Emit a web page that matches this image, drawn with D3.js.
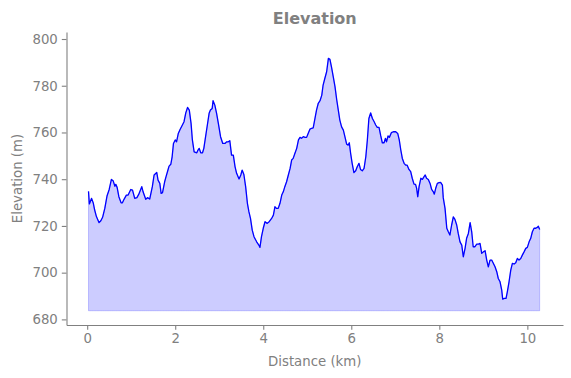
<!DOCTYPE html>
<html>
<head>
<meta charset="utf-8">
<script src="https://cdn.jsdelivr.net/npm/d3@7"></script>
<style>
  body { margin: 0; background: #fff; }
  svg { display: block; font-family: "DejaVu Sans", sans-serif; }
</style>
</head>
<body>
<svg id="chart" width="571" height="378"></svg>
<script>
const distanceKm = [0.03,0.05,0.10,0.14,0.17,0.21,0.27,0.31,0.35,0.40,0.45,0.50,0.55,0.59,0.63,0.65,0.68,0.72,0.77,0.80,0.84,0.89,0.93,0.99,1.03,1.08,1.13,1.17,1.24,1.27,1.33,1.37,1.42,1.48,1.52,1.58,1.61,1.65,1.68,1.71,1.76,1.79,1.83,1.86,1.90,1.93,1.96,2.00,2.03,2.07,2.11,2.16,2.20,2.24,2.28,2.32,2.36,2.39,2.43,2.49,2.51,2.545,2.58,2.62,2.65,2.69,2.73,2.77,2.80,2.84,2.86,2.90,2.94,2.98,3.03,3.08,3.13,3.17,3.205,3.24,3.28,3.32,3.36,3.395,3.45,3.49,3.52,3.56,3.60,3.64,3.675,3.71,3.75,3.79,3.85,3.90,3.925,3.96,4.00,4.04,4.09,4.135,4.19,4.23,4.265,4.30,4.34,4.38,4.42,4.455,4.49,4.53,4.57,4.61,4.645,4.68,4.72,4.76,4.80,4.835,4.87,4.91,4.95,4.985,5.02,5.06,5.10,5.135,5.175,5.21,5.25,5.29,5.33,5.36,5.40,5.44,5.48,5.515,5.55,5.59,5.63,5.67,5.705,5.74,5.78,5.82,5.855,5.895,5.93,5.955,5.985,6.02,6.06,6.10,6.135,6.175,6.21,6.25,6.29,6.33,6.365,6.40,6.44,6.48,6.52,6.555,6.59,6.63,6.67,6.705,6.745,6.775,6.80,6.835,6.865,6.91,6.955,7.01,7.055,7.09,7.125,7.16,7.20,7.236,7.27,7.31,7.35,7.385,7.425,7.46,7.485,7.51,7.54,7.58,7.615,7.65,7.68,7.71,7.75,7.79,7.826,7.864,7.886,7.918,7.955,7.993,8.03,8.07,8.09,8.13,8.17,8.205,8.24,8.28,8.318,8.355,8.395,8.43,8.47,8.51,8.545,8.585,8.62,8.66,8.70,8.736,8.77,8.81,8.85,8.89,8.925,8.964,9.00,9.04,9.077,9.114,9.152,9.19,9.227,9.266,9.305,9.34,9.38,9.418,9.44,9.477,9.516,9.545,9.584,9.623,9.66,9.70,9.736,9.773,9.81,9.85,9.886,9.925,9.964,10.00,10.04,10.077,10.114,10.152,10.19,10.227,10.25,10.28];
const elevationM = [734.8,729.4,731.8,729.7,726.8,724.0,721.4,722.2,723.7,727.5,732.8,735.6,739.9,739.3,737.0,737.8,736.5,732.5,729.9,729.9,731.5,733.2,733.2,735.6,735.3,731.8,732.1,733.5,736.8,734.6,731.4,732.1,731.5,736.8,741.8,742.9,739.6,738.2,733.9,734.2,738.9,741.0,743.6,745.6,746.4,749.6,755.3,756.8,756.0,759.6,761.3,763.1,764.6,768.4,770.7,769.6,763.9,756.8,751.7,751.3,752.2,753.2,751.3,751.3,753.2,758.2,763.2,768.2,769.6,770.3,773.6,771.7,768.2,763.9,758.2,755.3,755.3,756.0,756.0,756.5,750.3,750.3,745.3,742.5,740.1,741.8,743.9,742.0,736.8,729.7,726.0,723.2,718.2,715.4,713.2,711.8,710.8,715.4,719.0,721.8,721.1,721.8,723.2,724.6,728.2,727.5,727.5,729.7,733.2,734.6,736.8,738.9,741.8,744.6,748.2,748.9,751.1,753.2,756.8,757.9,757.5,758.2,757.9,757.9,759.6,761.4,761.8,762.0,766.0,769.6,772.5,773.6,776.0,780.3,783.2,786.0,791.7,791.3,788.1,783.9,779.6,773.9,769.6,765.3,762.4,761.0,758.2,755.0,754.6,755.6,751.1,746.8,742.8,743.6,745.3,746.8,744.2,743.6,744.6,749.6,756.8,766.0,768.4,766.0,764.6,763.2,762.2,762.2,758.5,755.6,755.6,757.5,756.0,758.5,757.9,759.9,760.3,760.3,759.6,756.8,752.5,748.9,746.8,746.0,746.0,744.2,743.2,740.4,737.9,737.8,736.1,732.5,736.8,740.4,739.9,741.0,741.8,740.4,739.9,738.2,735.6,734.6,733.6,736.1,738.2,738.5,738.6,737.5,732.0,727.5,719.0,717.5,716.1,720.4,723.9,722.8,720.4,716.8,713.2,711.8,706.8,710.4,714.7,716.8,721.4,717.5,711.1,711.1,712.2,712.2,712.5,708.3,708.9,709.4,705.4,702.5,705.4,705.4,704.0,702.5,700.4,697.5,696.1,692.5,688.7,689.0,689.0,691.8,696.1,701.1,704.0,703.7,704.2,706.1,705.4,706.1,707.5,708.9,710.4,710.8,713.2,714.7,717.5,719.0,719.0,719.4,719.9,718.5];
const xTicks = [0, 2, 4, 6, 8, 10];
const yTicks = [680, 700, 720, 740, 760, 780, 800];
const titleText = "Elevation";
const xLabel = "Distance (km)";
const yLabel = "Elevation (m)";

(function () {
  const data = distanceKm.map((d, i) => ({ x: d, y: elevationM[i] }));
  const baseline = d3.min(elevationM) - 5;

  const svg = d3.select("#chart");
  const mLeft = 66.5, mRight = 563, mTop = 32, mBottom = 325;
  const grey = "#808080";

  const x = d3.scaleLinear().domain([-0.47, 10.81]).range([mLeft, mRight]);
  const y = d3.scaleLinear().domain([677.6, 803]).range([mBottom, mTop]);

  svg.append("path")
    .datum(data)
    .attr("d", d3.area().x(d => x(d.x)).y0(y(baseline)).y1(d => y(d.y)))
    .attr("fill", "blue").attr("fill-opacity", 0.2)
    .attr("stroke", "blue").attr("stroke-opacity", 0.2).attr("stroke-width", 1);

  svg.append("path")
    .datum(data)
    .attr("d", d3.line().x(d => x(d.x)).y(d => y(d.y)))
    .attr("fill", "none").attr("stroke", "blue").attr("stroke-width", 1.3)
    .attr("stroke-linejoin", "round");

  const xAxis = svg.append("g").attr("transform", `translate(0,${mBottom})`)
    .call(d3.axisBottom(x).tickValues(xTicks).tickFormat(d3.format("d")).tickSize(4.7).tickPadding(4).tickSizeOuter(0));
  const yAxis = svg.append("g").attr("transform", `translate(${mLeft},0)`)
    .call(d3.axisLeft(y).tickValues(yTicks).tickFormat(d3.format("d")).tickSize(4.7).tickPadding(4).tickSizeOuter(0));
  [xAxis, yAxis].forEach(g => {
    g.selectAll("path.domain").attr("stroke", grey).attr("stroke-width", 1.1);
    g.selectAll(".tick line").attr("stroke", grey).attr("stroke-width", 1.1);
    g.selectAll(".tick text").attr("fill", grey).style("font-size", "13.3px").style("font-family", "DejaVu Sans");
  });

  svg.append("text").attr("x", (mLeft + mRight) / 2).attr("y", 24)
    .attr("text-anchor", "middle").attr("fill", grey)
    .style("font-size", "16px").style("font-weight", "bold").text(titleText);
  svg.append("text").attr("x", (mLeft + mRight) / 2).attr("y", 366)
    .attr("text-anchor", "middle").attr("fill", grey)
    .style("font-size", "13.3px").text(xLabel);
  svg.append("text").attr("transform", `translate(22,${(mTop + mBottom) / 2}) rotate(-90)`)
    .attr("text-anchor", "middle").attr("fill", grey)
    .style("font-size", "13.3px").text(yLabel);
})();
</script>
</body>
</html>
